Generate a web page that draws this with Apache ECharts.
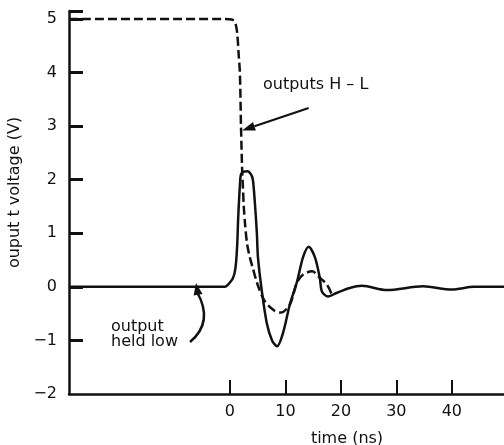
<!DOCTYPE html>
<html>
<head>
<meta charset="utf-8">
<script src="https://cdn.jsdelivr.net/npm/echarts@6/dist/echarts.min.js"></script>
<style>html,body{margin:0;padding:0;background:#fff}#c{width:504px;height:445px}</style>
</head>
<body>
<div id="c"></div>
<script>
// time (ns) and voltage (V) for "output held low" (solid)
const heldLowTime = [-29, -0.9, -0.36, 0.54, 1.0, 1.3, 1.5, 1.8, 2.0, 2.5, 3.2, 3.8, 4.14, 4.5, 4.86, 5.05, 5.77, 6.67, 7.6, 8.5, 9.6, 10.8, 12.1, 13.2, 14.2, 15.3, 16.2, 16.6, 17.7, 19.3, 21.6, 23.8, 28.3, 34.8, 40, 44, 49.4];
const heldLowVolt = [0, 0, 0.04, 0.16, 0.35, 0.75, 1.3, 1.89, 2.1, 2.15, 2.16, 2.1, 2.0, 1.57, 1.0, 0.56, -0.09, -0.69, -1.0, -1.11, -0.85, -0.33, 0.1, 0.56, 0.75, 0.56, 0.17, -0.09, -0.18, -0.11, -0.02, 0.02, -0.06, 0.01, -0.05, 0, 0];
// "outputs H - L" (dashed)
const hlTime = [-29, -0.9, 0.3, 0.9, 1.3, 1.6, 1.8, 2.0, 2.2, 2.35, 2.5, 2.75, 3.1, 3.6, 4.1, 5.0, 6.3, 8.1, 9.2, 10.8, 12.1, 13.2, 14.8, 16.2, 17.5, 18.4];
const hlVolt = [5, 5, 4.99, 4.95, 4.75, 4.3, 4.0, 3.0, 2.2, 1.85, 1.5, 1.15, 0.8, 0.55, 0.36, 0.04, -0.27, -0.45, -0.48, -0.33, 0.08, 0.23, 0.29, 0.17, 0.04, -0.15];
const xTicks = [0, 10, 20, 30, 40];
const yLabels = [-2, -1, 0, 1, 2, 3, 4, 5];
const yTicks = [-1, 0, 1, 2, 3, 4, 5, 5.15];

const chart = echarts.init(document.getElementById('c'));
const font = '"DejaVu Sans", Verdana, sans-serif';
const pair = (a, b) => a.map((v, i) => [v, b[i]]);

chart.setOption({
  animation: false,
  grid: { left: 69, right: 0, top: 11, bottom: 51, outerBoundsMode: 'none', containLabel: false },
  xAxis: {
    type: 'value', min: -29, max: 49.4,
    name: 'time (ns)', nameLocation: 'middle', nameGap: 37,
    nameTextStyle: { fontFamily: font, fontSize: 16, color: '#111', padding: [0, 0, 0, 121] },
    axisLine: { onZero: false, lineStyle: { color: '#111', width: 2.5 } },
    axisTick: { inside: true, length: 14, lineStyle: { color: '#111', width: 2 }, customValues: xTicks },
    axisLabel: { customValues: xTicks, fontFamily: font, fontSize: 16, color: '#111', margin: 10 },
    splitLine: { show: false }
  },
  yAxis: {
    type: 'value', min: -2, max: 5.15,
    name: 'ouput t voltage (V)', nameLocation: 'middle', nameGap: 38,
    nameTextStyle: { fontFamily: font, fontSize: 16, color: '#111', padding: [0, 0, 0, 20] },
    axisLine: { onZero: false, lineStyle: { color: '#111', width: 2.5 } },
    axisTick: { inside: true, length: 14, lineStyle: { color: '#111', width: 3 }, customValues: yTicks },
    axisLabel: {
      customValues: yLabels, fontFamily: font, fontSize: 16, color: '#111', margin: 12,
      formatter: v => (v < 0 ? '\u2212' + Math.abs(v) : String(v))
    },
    splitLine: { show: false }
  },
  series: [
    {
      name: 'output held low', type: 'line', data: pair(heldLowTime, heldLowVolt),
      symbol: 'none', smooth: 0.3,
      lineStyle: { color: '#111', width: 2.5 }, z: 3
    },
    {
      name: 'outputs H - L', type: 'line', data: pair(hlTime, hlVolt),
      symbol: 'none', smooth: 0.3,
      lineStyle: { color: '#111', width: 2.5, type: [9, 4] }, z: 2
    }
  ]
});

// annotations
function arrowHead(tip, from, len, half) {
  const dx = tip[0] - from[0], dy = tip[1] - from[1];
  const d = Math.hypot(dx, dy), ux = dx / d, uy = dy / d;
  const bx = tip[0] - ux * len, by = tip[1] - uy * len;
  return [tip, [bx - uy * half, by + ux * half], [bx + uy * half, by - ux * half]];
}
const p = v => chart.convertToPixel({ gridIndex: 0 }, v);
const aStart = p([14.2, 3.34]);
const aTip = p([2.2, 2.92]);
const ah = arrowHead(aTip, aStart, 13, 4.5);
const cStart = [190, 342], cCp = [214, 322], cEnd = [197, 292], cTip = [196, 283];
const ch = arrowHead(cTip, [199, 300], 12, 4.5);

chart.setOption({
  graphic: [
    { type: 'text', left: 263, top: 77, style: { text: 'outputs H \u2013 L', font: '16px ' + font, fill: '#111' } },
    { type: 'line', shape: { x1: aStart[0], y1: aStart[1], x2: (ah[1][0] + ah[2][0]) / 2, y2: (ah[1][1] + ah[2][1]) / 2 }, style: { stroke: '#111', lineWidth: 2.2 } },
    { type: 'polygon', shape: { points: ah }, style: { fill: '#111' } },
    { type: 'text', left: 111, top: 319, style: { text: 'output\nheld low', font: '16px ' + font, fill: '#111', lineHeight: 15 } },
    { type: 'bezierCurve', shape: { x1: cStart[0], y1: cStart[1], x2: cEnd[0], y2: cEnd[1], cpx1: cCp[0], cpy1: cCp[1] }, style: { stroke: '#111', lineWidth: 2.5, fill: 'none' } },
    { type: 'polygon', shape: { points: ch }, style: { fill: '#111' } }
  ]
});
</script>
</body>
</html>
